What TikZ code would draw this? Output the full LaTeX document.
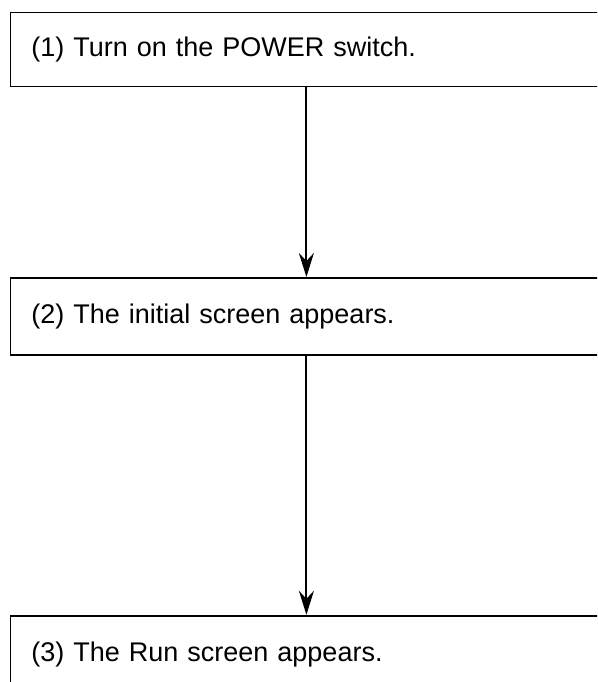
\documentclass[tikz,border=0pt]{standalone}
\usepackage{fontspec}
\setmainfont{Liberation Sans}
\usepackage{tikz}
\usetikzlibrary{arrows.meta,positioning}

\begin{document}
\begin{tikzpicture}[
  x=1pt, y=1pt,
  every node/.style={font=\fontsize{27}{32}\selectfont},
  stepbox/.style={rectangle, draw=black, line width=1.8pt, minimum width=592pt, minimum height=77pt, text width=550pt, align=left, inner xsep=21pt, anchor=north west},
  arrow/.style={-{Stealth[length=24pt, width=15pt, inset=8pt]}, line width=2pt, draw=black}
]
\clip (0,0) rectangle (597,-682);
\useasboundingbox (0,0) rectangle (597,-682);
\node[stepbox, minimum height=74pt] (power) at (9.5,-11.7) {(1) Turn on the POWER switch.};
\node[stepbox, below=189.5pt of power] (initial) {(2) The initial screen appears.};
\node[stepbox, below=259pt of initial] (run) {(3) The Run screen appears.};

\draw[arrow] (power) -- (initial);
\draw[arrow] (initial) -- (run);
\end{tikzpicture}
\end{document}
